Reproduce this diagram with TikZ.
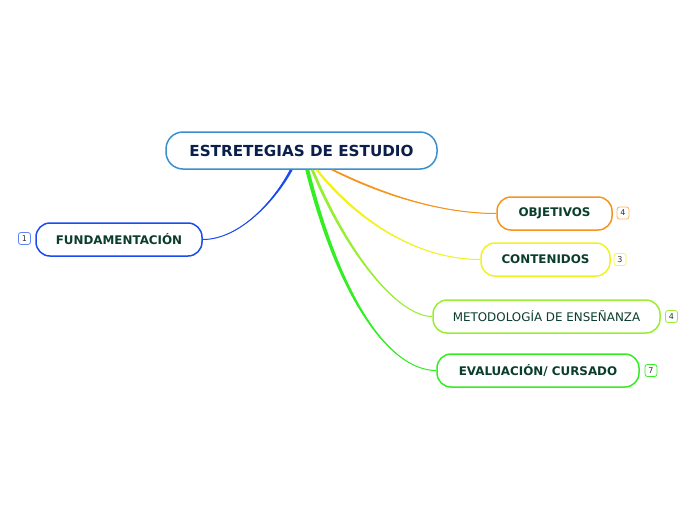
\documentclass[tikz,border=0pt]{standalone}
\usepackage{fontspec}
\setmainfont{DejaVu Sans}
\usetikzlibrary{calc}
\definecolor{cblue}{HTML}{3A8FD0}
\definecolor{fblue}{HTML}{1A4CF0}
\definecolor{corange}{HTML}{F7941D}
\definecolor{cyellow}{HTML}{F2F21E}
\definecolor{clime}{HTML}{99EE33}
\definecolor{cgreen}{HTML}{33EE22}
\definecolor{navy}{HTML}{0A1F4A}
\definecolor{txtgreen}{HTML}{0B3D2E}
\definecolor{badgetxt}{HTML}{333333}
\begin{document}
\begin{tikzpicture}[x=1pt,y=-1pt,
  box/.style={draw, line width=1.5pt, rounded corners=14pt, fill=white, inner sep=0pt,
    minimum height=33pt, text=txtgreen, font=\bfseries\fontsize{11.9}{13}\selectfont},
  badge/.style={draw, line width=0.8pt, rounded corners=2.5pt, fill=white, minimum width=12pt,
    minimum height=12pt, inner sep=0pt, text=badgetxt, font=\fontsize{8}{9}\selectfont},
  conn/.style={line width=1pt}]
\useasboundingbox (0,0) rectangle (696,520);
% central
\node[draw=cblue, line width=1.5pt, rounded corners=17pt, fill=white, inner sep=0pt,
  minimum width=271pt, minimum height=37pt, text=navy,
  font=\bfseries\fontsize{15.2}{17}\selectfont] (c) at (301.5,150.5) {ESTRETEGIAS DE ESTUDIO};
% children
\node[box, draw=fblue, minimum width=166pt] (fund) at (119,239.5) {FUNDAMENTACIÓN};
\node[box, draw=corange, minimum width=115pt] (obj) at (554.5,213.5) {OBJETIVOS};
\node[box, draw=cyellow, minimum width=129pt] (cont) at (545.5,259.5) {CONTENIDOS};
\node[box, draw=clime, minimum width=227pt, font=\fontsize{11.9}{13}\selectfont] (met) at (546.5,316.5) {METODOLOGÍA DE ENSEÑANZA};
\node[box, draw=cgreen, minimum width=202pt] (eval) at (538,370.5) {EVALUACIÓN/ CURSADO};
% badges
\node[badge, draw=fblue!70] (b1) at (24.5,238.5) {1};
\node[badge, draw=corange!70] (b2) at (623,213) {4};
\node[badge, draw=cyellow!80] (b3) at (620,259.5) {3};
\node[badge, draw=clime] (b4) at (671.5,316.5) {4};
\node[badge, draw=cgreen] (b5) at (651,370.5) {7};
% connectors
\fill[fblue] ($(c.south west)+(124.5,0)$) .. controls (274,200) and (240,239.5) .. (fund.east)
  .. controls (240,239.5) and (276.5,200) .. ($(c.south west)+(127.5,0)$) -- cycle;
\draw[conn, fblue] ($(c.south west)+(126,0)$) .. controls (275,200) and (240,239.5) .. (fund.east);
\fill[corange] ($(c.south west)+(165.5,0)$) .. controls (380,195) and (440,213.5) .. (obj.west)
  .. controls (440,213.5) and (382.5,193) .. ($(c.south west)+(169,0)$) -- cycle;
\draw[conn, corange] ($(c.south west)+(167,0)$) .. controls (381,194) and (440,213.5) .. (obj.west);
\fill[cyellow] ($(c.south west)+(150,0)$) .. controls (359,225) and (420,259.5) .. (cont.west)
  .. controls (420,259.5) and (361.5,223) .. ($(c.south west)+(153,0)$) -- cycle;
\draw[conn, cyellow] ($(c.south west)+(151.5,0)$) .. controls (360,224) and (420,259.5) .. (cont.west);
\fill[clime] ($(c.south west)+(145.5,0)$) .. controls (349,261) and (400,316.5) .. (met.west)
  .. controls (400,316.5) and (351.5,259) .. ($(c.south west)+(148.5,0)$) -- cycle;
\draw[conn, clime] ($(c.south west)+(147,0)$) .. controls (350,260) and (400,316.5) .. (met.west);
\fill[cgreen] ($(c.south west)+(140,0)$) .. controls (338,301) and (390,370.5) .. (eval.west)
  .. controls (390,370.5) and (341.5,299) .. ($(c.south west)+(144,0)$) -- cycle;
\draw[conn, cgreen] ($(c.south west)+(142,0)$) .. controls (340,300) and (390,370.5) .. (eval.west);
\end{tikzpicture}
\end{document}
